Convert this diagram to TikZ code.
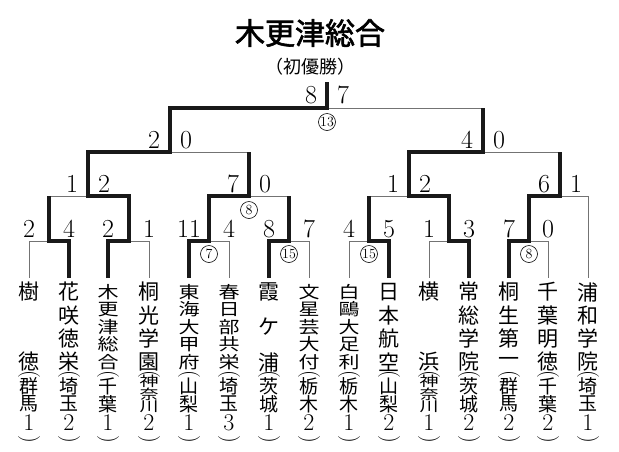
\documentclass[tikz,border=0pt]{standalone}
\usepackage{fontspec}
\newfontfamily\cjk{Noto Sans CJK JP}
\newfontfamily\cjkb{Noto Sans CJK JP}[FakeBold=2]
\begin{document}
\begin{tikzpicture}[x=1pt,y=-1pt,
  thin line/.style={draw=black!55,line width=0.8pt},
  thick line/.style={draw=black!90,line width=4.5pt,line join=miter,line cap=butt},
  ch/.style={inner sep=0pt,font=\cjk\fontsize{21}{21}\selectfont},
  chs/.style={inner sep=0pt,font=\cjk\fontsize{19}{19}\selectfont},
  dig/.style={inner sep=0pt,font=\fontsize{24}{24}\selectfont},
  par/.style={inner sep=0pt,font=\fontsize{22}{22}\selectfont,rotate=-90},
  sc/.style={inner sep=0pt,font=\fontsize{26}{26}\selectfont},
  circ/.style={draw=black,circle,line width=0.6pt,minimum size=17pt,inner sep=0pt,font=\fontsize{14}{14}\selectfont}]
\useasboundingbox (0,0) rectangle (619,451);
\fill[white] (0,0) rectangle (619,451);
\node[inner sep=0pt,font=\cjkb\fontsize{30}{30}\selectfont] (title) at (310,33) {木更津総合};
\node[inner sep=0pt,font=\cjk\fontsize{18}{18}\selectfont] (sub) at (310,67) {（初優勝）};
\newcommand\tm[6]{%
  \foreach \c [count=\i from 0] in {#3} \node[ch,yscale={#2>4?0.8:1}] (n#1-\i) at (#1,{292+\i*70/(#2-1)}) {\c};
  \node[par] (o#1) at (#1,374) {(};
  \foreach \c [count=\i from 0] in {#5} \node[chs,yscale={#4>2?0.72:1}] (p#1-\i) at (#1,{386-(#4-2)*5+\i*(18-(#4-2)*5)}) {\c};
  \node[dig] (d#1) at (#1,423) {#6};
  \node[par] (c#1) at (#1,439) {)};
}
\tm{29}{2}{樹,徳}{2}{群,馬}{1}
\tm{69}{4}{花,咲,徳,栄}{2}{埼,玉}{2}
\tm{108}{5}{木,更,津,総,合}{2}{千,葉}{1}
\tm{149}{4}{桐,光,学,園}{3}{神,奈,川}{2}
\tm{189}{5}{東,海,大,甲,府}{2}{山,梨}{1}
\tm{229}{5}{春,日,部,共,栄}{2}{埼,玉}{3}
\tm{269}{3}{霞,ケ,浦}{2}{茨,城}{1}
\tm{309}{5}{文,星,芸,大,付}{2}{栃,木}{2}
\tm{349}{5}{白,鷗,大,足,利}{2}{栃,木}{1}
\tm{389}{4}{日,本,航,空}{2}{山,梨}{2}
\tm{429}{2}{横,浜}{3}{神,奈,川}{1}
\tm{469}{4}{常,総,学,院}{2}{茨,城}{2}
\tm{509}{4}{桐,生,第,一}{2}{群,馬}{2}
\tm{548}{4}{千,葉,明,徳}{2}{千,葉}{2}
\tm{588}{4}{浦,和,学,院}{2}{埼,玉}{1}
% thin bracket
\foreach \x in {29,69,108,149,189,229,269,309,349,389,429,469,509,548} \draw[thin line] (\x,241) -- (\x,278);
\draw[thin line] (588,196) -- (588,278);
\foreach \a/\b/\j in {29/69/49,108/149/129,189/229/209,269/309/289,349/389/369,429/469/449,509/548/529}
  \draw[thin line] (\a,241) -- (\b,241) (\j,241) -- (\j,196);
\foreach \a/\b/\j in {49/129/88,209/289/249,369/449/409,529/588/560}
  \draw[thin line] (\a,196) -- (\b,196) (\j,196) -- (\j,152);
\foreach \a/\b/\j in {88/249/170,409/560/483}
  \draw[thin line] (\a,152) -- (\b,152) (\j,152) -- (\j,108);
\draw[thin line] (170,108) -- (483,108) (327,108) -- (327,82);
% winners
\draw[thick line] (69,278) -- (69,241) -- (49,241) -- (49,196);
\draw[thick line] (108,278) -- (108,241) -- (129,241) -- (129,196) -- (88,196) -- (88,152) -- (170,152) -- (170,108) -- (327,108) -- (327,82);
\draw[thick line] (189,278) -- (189,241) -- (209,241) -- (209,196) -- (249,196) -- (249,152);
\draw[thick line] (269,278) -- (269,241) -- (289,241) -- (289,196);
\draw[thick line] (389,278) -- (389,241) -- (369,241) -- (369,196);
\draw[thick line] (469,278) -- (469,241) -- (449,241) -- (449,196) -- (409,196) -- (409,152) -- (483,152) -- (483,108);
\draw[thick line] (509,278) -- (509,241) -- (529,241) -- (529,196) -- (560,196) -- (560,152);
% scores
\foreach \x/\s [count=\k] in {29/2,69/4,108/2,149/1,189/11,229/4,269/8,309/7,349/4,389/5,429/1,469/3,509/7,548/0}
  \node[sc] (s1-\k) at (\x,229) {\s};
\foreach \j/\l/\r [count=\k] in {88/1/2,249/7/0,409/1/2,560/6/1}
  {\node[sc] (s2l-\k) at (\j-16,184) {\l}; \node[sc] (s2r-\k) at (\j+16,184) {\r};}
\foreach \j/\l/\r [count=\k] in {170/2/0,483/4/0}
  {\node[sc] (s3l-\k) at (\j-16,140) {\l}; \node[sc] (s3r-\k) at (\j+16,140) {\r};}
\node[sc] (f1) at (311,95) {8};
\node[sc] (f2) at (343,95) {7};
% extra innings
\node[circ] (e1) at (327,122) {13};
\node[circ] (e2) at (249,210) {8};
\node[circ] (e3) at (209,254) {7};
\node[circ] (e4) at (289,254) {15};
\node[circ] (e5) at (369,254) {15};
\node[circ] (e6) at (529,254) {8};
\end{tikzpicture}
\end{document}
